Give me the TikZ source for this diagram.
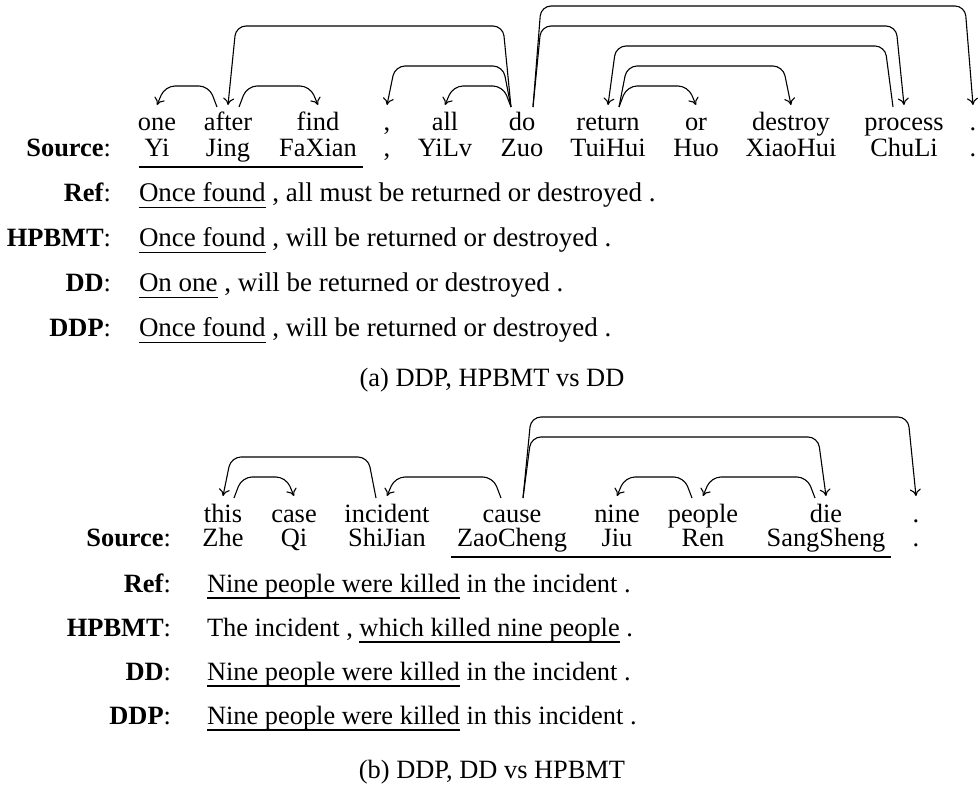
\documentclass[tikz,border=0pt]{standalone}
\usepackage{fontspec}
\setmainfont{Liberation Serif}
\usetikzlibrary{arrows.meta,calc}

% underline set at a fixed depth below the baseline
\newsavebox\ulbox
\newcommand\undl[1]{\sbox\ulbox{#1}\rlap{\rule[-6.5pt]{\wd\ulbox}{1.2pt}}\usebox\ulbox}

% dependency arc: source word, target word, direction (+1/-1), height above the gloss baseline
\newcommand\deparc[4]{%
  \draw[dep] ($(#1.base)+({(#3)*11},24)$) -- ($(#1.base)+({(#3)*19},#4)$)
    -- ($(#2.base)+({-(#3)*8},#4)$) -- ($(#2.base)+(0,26)$);}

\begin{document}
\begin{tikzpicture}[x=1pt,y=1pt,
  font=\fontsize{26.4}{30}\selectfont,
  every node/.style={inner sep=0pt,outer sep=0pt},
  word/.style={anchor=base},
  lbl/.style={anchor=base east},
  sent/.style={anchor=base west},
  bigsent/.style={sent,font=\fontsize{27}{30}\selectfont},
  captext/.style={anchor=base},
  dep/.style={draw,line width=1.1pt,rounded corners=10pt,-{To[length=7pt,width=11pt]}},
  srcline/.style={draw,line width=1.2pt}]
\useasboundingbox (0,0) rectangle (978,-791);

% ---------------- (a) ----------------
\node[word] (tg1)  at (157,-131) {one};
\node[word] (tg2)  at (228,-131) {after};
\node[word] (tg3)  at (318,-131) {find};
\node[word] (tg4)  at (387,-131) {,};
\node[word] (tg5)  at (445,-131) {all};
\node[word] (tg6)  at (522,-131) {do};
\node[word] (tg7)  at (608,-131) {return};
\node[word] (tg8)  at (696,-131) {or};
\node[word] (tg9)  at (791,-131) {destroy};
\node[word] (tg10) at (904,-131) {process};
\node[word] (tg11) at (973,-131) {.};

\node[word] (ts1)  at (157,-157) {Yi};
\node[word] (ts2)  at (228,-157) {Jing};
\node[word] (ts3)  at (318,-157) {FaXian};
\node[word] (ts4)  at (387,-157) {,};
\node[word] (ts5)  at (445,-157) {YiLv};
\node[word] (ts6)  at (522,-157) {Zuo};
\node[word] (ts7)  at (608,-157) {TuiHui};
\node[word] (ts8)  at (696,-157) {Huo};
\node[word] (ts9)  at (791,-157) {XiaoHui};
\node[word] (ts10) at (904,-157) {ChuLi};
\node[word] (ts11) at (973,-157) {.};

\draw[srcline] ([xshift=-6pt,yshift=-10pt]ts1.base west) -- ([xshift=6pt,yshift=-10pt]ts3.base east);

\deparc{tg2}{tg1}{-1}{45}
\deparc{tg2}{tg3}{1}{45}
\deparc{tg6}{tg5}{-1}{45}
\deparc{tg6}{tg4}{-1}{65}
\deparc{tg6}{tg2}{-1}{105}
\deparc{tg6}{tg10}{1}{105}
\deparc{tg6}{tg11}{1}{125}
\deparc{tg7}{tg8}{1}{45}
\deparc{tg7}{tg9}{1}{65}
\deparc{tg10}{tg7}{-1}{85}

\node[lbl] (tl1) at (111,-157) {\textbf{Source}:};
\node[lbl] (tl2) at (111,-202) {\textbf{Ref}:};
\node[lbl] (tl3) at (111,-247) {\textbf{HPBMT}:};
\node[lbl] (tl4) at (111,-292) {\textbf{DD}:};
\node[lbl] (tl5) at (111,-337) {\textbf{DDP}:};

\node[bigsent] (tr2) at (139,-202) {\undl{Once found} , all must be returned or destroyed .};
\node[bigsent] (tr3) at (139,-247) {\undl{Once found} , will be returned or destroyed .};
\node[bigsent] (tr4) at (139,-292) {\undl{On one} , will be returned or destroyed .};
\node[bigsent] (tr5) at (139,-337) {\undl{Once found} , will be returned or destroyed .};

\node[captext] (capa) at (492,-387) {(a) DDP, HPBMT vs DD};

% ---------------- (b) ----------------
\node[word] (bg1) at (223,-522) {this};
\node[word] (bg2) at (294,-522) {case};
\node[word] (bg3) at (387,-522) {incident};
\node[word] (bg4) at (512,-522) {cause};
\node[word] (bg5) at (617,-522) {nine};
\node[word] (bg6) at (703,-522) {people};
\node[word] (bg7) at (826,-522) {die};
\node[word] (bg8) at (916,-522) {.};

\node[word] (bs1) at (223,-547) {Zhe};
\node[word] (bs2) at (294,-547) {Qi};
\node[word] (bs3) at (387,-547) {ShiJian};
\node[word] (bs4) at (512,-547) {ZaoCheng};
\node[word] (bs5) at (617,-547) {Jiu};
\node[word] (bs6) at (703,-547) {Ren};
\node[word] (bs7) at (826,-547) {SangSheng};
\node[word] (bs8) at (916,-547) {.};

\draw[srcline] ([xshift=-6pt,yshift=-10pt]bs4.base west) -- ([xshift=6pt,yshift=-10pt]bs7.base east);

\deparc{bg1}{bg2}{1}{45}
\deparc{bg3}{bg1}{-1}{65}
\deparc{bg4}{bg3}{-1}{45}
\deparc{bg4}{bg7}{1}{85}
\deparc{bg4}{bg8}{1}{105}
\deparc{bg6}{bg5}{-1}{45}
\deparc{bg7}{bg6}{-1}{45}

\node[lbl] (bl1) at (171,-547) {\textbf{Source}:};
\node[lbl] (bl2) at (171,-592) {\textbf{Ref}:};
\node[lbl] (bl3) at (171,-636) {\textbf{HPBMT}:};
\node[lbl] (bl4) at (171,-680) {\textbf{DD}:};
\node[lbl] (bl5) at (171,-724) {\textbf{DDP}:};

\node[sent] (br2) at (207,-592) {\undl{Nine people were killed} in the incident .};
\node[sent] (br3) at (207,-636) {The incident , \undl{which killed nine people} .};
\node[sent] (br4) at (207,-680) {\undl{Nine people were killed} in the incident .};
\node[sent] (br5) at (207,-724) {\undl{Nine people were killed} in this incident .};

\node[captext] (capb) at (492,-778) {(b) DDP, DD vs HPBMT};
\end{tikzpicture}
\end{document}
